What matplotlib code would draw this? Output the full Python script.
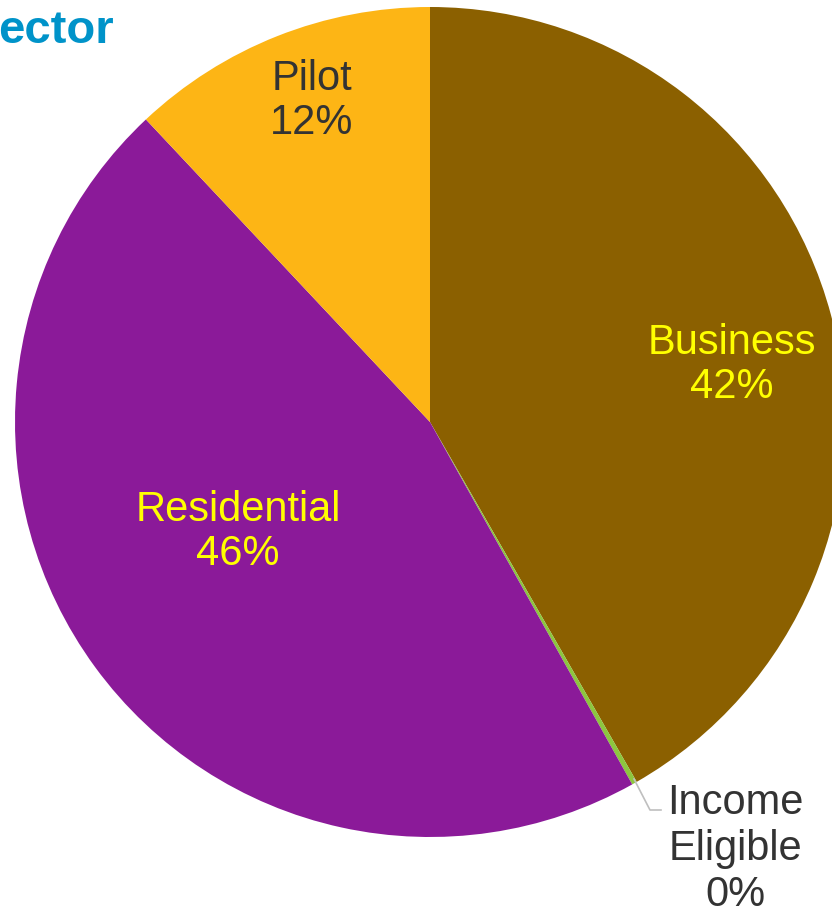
import matplotlib.pyplot as plt

# data
sectors = ['Business', 'Income Eligible', 'Residential', 'Pilot']
shares = [41.7, 0.2, 46.1, 12.0]
shown_pct = ['42%', '0%', '46%', '12%']
colors = ['#8B6000', '#8DC63F', '#8B1A99', '#FDB515']

plt.rcParams['font.family'] = ['Liberation Sans', 'DejaVu Sans']

fig = plt.figure(figsize=(8.32, 9.15), dpi=100)
ax = fig.add_axes([0, 0, 1, 1])

# y axis is inverted below, so counterclock=True draws clockwise on screen
ax.pie(shares, colors=colors, startangle=-90, counterclock=True,
       center=(430, 422), radius=415, frame=True,
       wedgeprops=dict(linewidth=0))
ax.set_xlim(0, 832)
ax.set_ylim(915, 0)   # pixel-like coords, y down
ax.set_aspect('equal')
ax.axis('off')

fs = 30
ax.text(732, 365, sectors[0] + '\n' + shown_pct[0], color='#FFFF00', fontsize=fs,
        ha='center', va='center', linespacing=1.15)
ax.text(238, 532, sectors[2] + '\n' + shown_pct[2], color='#FFFF00', fontsize=fs,
        ha='center', va='center', linespacing=1.15)
ax.text(312, 101, sectors[3] + '\n' + shown_pct[3], color='#333333', fontsize=fs,
        ha='center', va='center', linespacing=1.15)
ax.text(735, 849, 'Income\nEligible\n' + shown_pct[1], color='#333333', fontsize=fs,
        ha='center', va='center', linespacing=1.2)

# leader line for the tiny slice
ax.plot([634, 650, 661], [779, 810, 810], color='#BFBFBF', lw=1.2)

fig.text(114 / 832, 1 - 31 / 915, 'ector', color='#0093C9', fontsize=34,
         fontweight='bold', ha='right', va='center')

fig.savefig('out.png', dpi=100)
